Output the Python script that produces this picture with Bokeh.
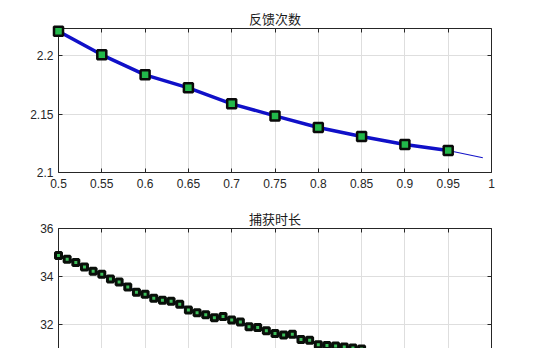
from bokeh.plotting import figure
from bokeh.models import Range1d, LinearAxis, FixedTicker
from bokeh.layouts import column
from bokeh.embed import file_html
from bokeh.resources import INLINE

# ---- data ----
title_top = "反馈次数"
title_bottom = "捕获时长"

x_ticks = [0.5, 0.55, 0.6, 0.65, 0.7, 0.75, 0.8, 0.85, 0.9, 0.95, 1.0]
x_tick_labels = ["0.5", "0.55", "0.6", "0.65", "0.7", "0.75", "0.8", "0.85", "0.9", "0.95", "1"]

top_y_ticks = [2.1, 2.15, 2.2]
top_y_labels = ["2.1", "2.15", "2.2"]
bottom_y_ticks = [30, 32, 34, 36]
bottom_y_labels = ["30", "32", "34", "36"]

# feedback count
fb_x = [0.5, 0.55, 0.6, 0.65, 0.7, 0.75, 0.8, 0.85, 0.9, 0.95]
fb_y = [2.2208, 2.2006, 2.1835, 2.1724, 2.1587, 2.1484, 2.1385, 2.1308, 2.1239, 2.1188]
fb_tail_x = [0.95, 0.99]
fb_tail_y = [2.1188, 2.1126]

# capture duration
cap_x = [0.50, 0.51, 0.52, 0.53, 0.54, 0.55, 0.56, 0.57, 0.58, 0.59,
         0.60, 0.61, 0.62, 0.63, 0.64, 0.65, 0.66, 0.67, 0.68, 0.69,
         0.70, 0.71, 0.72, 0.73, 0.74, 0.75, 0.76, 0.77, 0.78, 0.79,
         0.80, 0.81, 0.82, 0.83, 0.84, 0.85]
cap_y = [34.88, 34.72, 34.58, 34.40, 34.22, 34.09, 33.90, 33.77, 33.56, 33.34,
         33.26, 33.09, 33.01, 32.97, 32.84, 32.60, 32.49, 32.41, 32.28, 32.33,
         32.19, 32.10, 31.91, 31.88, 31.74, 31.62, 31.56, 31.59, 31.38, 31.34,
         31.16, 31.13, 31.10, 31.06, 31.02, 30.98]

AX = "#262626"
GRID = "#dedede"
FONT = "Liberation Sans"
CJK = "Noto Sans CJK SC"


def style_axis(ax, ticks, labels=None, show_labels=True):
    ax.ticker = FixedTicker(ticks=ticks)
    ax.axis_line_color = AX
    ax.axis_line_width = 1
    ax.major_tick_line_color = AX
    ax.major_tick_in = 4
    ax.major_tick_out = 0
    ax.minor_tick_line_color = None
    if show_labels and labels is not None:
        ax.major_label_overrides = {t: l for t, l in zip(ticks, labels)}
        ax.major_label_text_font = FONT
        ax.major_label_text_font_size = "12px"
        ax.major_label_text_color = AX
    else:
        ax.major_label_text_color = None
        ax.major_label_standoff = 0


def make_fig(height, yr, y_ticks, y_labels, title, bottom_axis):
    p = figure(width=536, height=height, x_range=Range1d(0.5, 1.0), y_range=yr,
               output_backend="svg", toolbar_location=None,
               x_axis_location="below" if bottom_axis else "above",
               min_border_left=58, min_border_right=45, min_border_top=28,
               min_border_bottom=28 if bottom_axis else 0,
               background_fill_color="white", border_fill_color="white")
    p.outline_line_color = None
    p.title.text = title
    p.title.align = "center"
    p.title.text_font = CJK
    p.title.text_font_size = "13px"
    p.title.text_font_style = "normal"
    p.title.text_color = "#1a1a1a"
    p.title.standoff = 2

    xa = p.xaxis[0]
    if bottom_axis:
        style_axis(xa, x_ticks, x_tick_labels, True)
        xa.major_label_standoff = 6
        top = LinearAxis()
        style_axis(top, x_ticks, show_labels=False)
        p.add_layout(top, "above")
    else:
        style_axis(xa, x_ticks, show_labels=False)

    ya = p.yaxis[0]
    style_axis(ya, y_ticks, y_labels, True)
    ya.major_label_standoff = 5
    right = LinearAxis()
    style_axis(right, y_ticks, show_labels=False)
    p.add_layout(right, "right")

    p.xgrid.ticker = FixedTicker(ticks=x_ticks)
    p.ygrid.ticker = FixedTicker(ticks=y_ticks)
    p.xgrid.grid_line_color = GRID
    p.ygrid.grid_line_color = GRID
    return p


p1 = make_fig(200, Range1d(2.1, 2.2231), top_y_ticks, top_y_labels, title_top, True)
p1.line(fb_tail_x, fb_tail_y, line_color="#1414c8", line_width=1.2)
p1.line(fb_x, fb_y, line_color="#1010c8", line_width=3.5)
p1.scatter(fb_x, fb_y, marker="square", size=9, fill_color="#22b84a",
           line_color="#0a0a0a", line_width=2.5, level="overlay")

p2 = make_fig(148, Range1d(31.0, 36.0), bottom_y_ticks, bottom_y_labels, title_bottom, False)
p2.line(cap_x, cap_y, line_color="#141c6e", line_width=3)
p2.scatter(cap_x, cap_y, marker="square", size=6, fill_color="#3cbf5a",
           line_color="#0a0f0a", line_width=3, level="overlay")

layout = column(p1, p2, spacing=0)
open("out.html", "w").write(file_html(layout, INLINE))
